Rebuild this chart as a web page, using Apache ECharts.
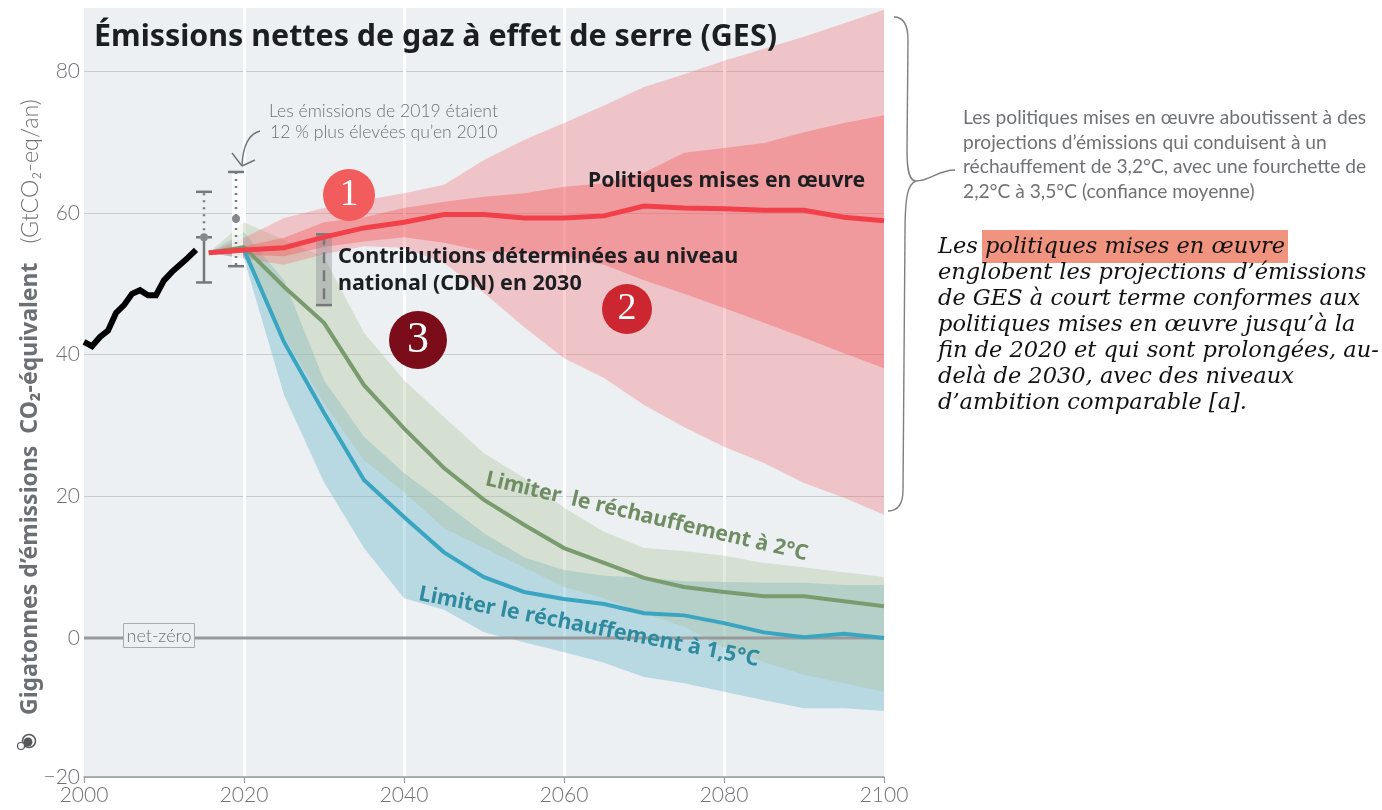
<!DOCTYPE html>
<html><head><meta charset="utf-8">
<style>html,body{margin:0;padding:0;background:#fff}#c{width:1382px;height:810px}</style>
<script src="https://cdn.jsdelivr.net/npm/echarts@6/dist/echarts.min.js"></script>
</head><body><div id="c"></div>
<script>
const historyYears=[2000,2001,2002,2003,2004,2005,2006,2007,2008,2009,2010,2011,2012,2013,2014];
const historyValues=[41.8,41.2,42.5,43.4,45.9,47,48.6,49.1,48.4,48.4,50.5,51.7,52.7,53.7,54.8];
const scenarioYears=[2015.6,2020,2025,2030,2035,2040,2045,2050,2055,2060,2065,2070,2075,2080,2085,2090,2095,2100];
const policyMedian=[54.4,54.8,55.1,56.6,57.9,58.7,59.8,59.8,59.3,59.3,59.6,61,60.7,60.6,60.4,60.4,59.4,58.9];
const policyOuterHigh=[54.4,56.5,59.3,60.7,61.8,62.8,64,67.5,70.3,72.7,75.2,77.8,79.6,81.5,83.2,84.9,86.8,88.7];
const policyOuterLow=[54.4,53.6,52.7,54.2,55.3,55.1,52.9,48.7,43.9,39.5,36.7,32.9,29.8,27,24.7,21.9,19.8,17.4];
const policyInnerHigh=[54.4,55.3,56.5,58.7,59.4,60.7,61.6,62.3,62.8,63.7,64.2,65.7,68.5,69.2,69.9,71.4,72.7,73.8];
const policyInnerLow=[54.4,54.1,53.9,55.2,56,56.6,55.8,54.6,54.4,53.9,52.7,50.5,48.6,46.6,44.5,42.4,40.2,38.1];
const twoDegMedian=[54.4,55.2,49.6,44.5,35.7,29.6,24,19.5,16,12.7,10.6,8.5,7.2,6.5,5.9,5.9,5.2,4.5];
const twoDegHigh=[54.4,58.7,56.2,53.8,43.1,36.4,31.2,26.1,22.6,18.4,15,12.7,12.3,11.6,10.6,10,9.3,8.6];
const twoDegLow=[54.4,53.9,42.6,33.2,25.1,20.6,15.5,12.7,10,7.2,5.6,3.5,1.6,-1.3,-3.4,-5.2,-6.4,-7.6];
const oneFiveMedian=[54.4,54.8,41.8,31.8,22.3,17.1,12.1,8.6,6.5,5.5,4.8,3.5,3.2,2.1,0.8,0.1,0.6,0];
const oneFiveHigh=[54.4,57.3,50.5,36.4,28.4,23.3,19.1,14.8,11.4,9.6,8.8,8.5,8,7.9,7.8,7.8,7.5,7.5];
const oneFiveLow=[54.4,53.6,34.3,22,12.7,5.6,4,0.8,-0.6,-2,-3.5,-5.5,-6.4,-7.6,-8.8,-9.9,-9.9,-10.3];
const whisker2015=[2015,50.2,56.6,63];
const whisker2019=[2019,52.5,59.2,65.8];
const whiskerCdn=[2030,47,52,57];
const xTicks=[2000,2020,2040,2060,2080,2100];
const yTickLabels=['−20','0','20','40','60','80'];
const yMin=-19.62,yMax=88.95;
const yTickValues=[yMin,0,20,40,60,80];
const titleText='Émissions nettes de gaz à effet de serre (GES)';
const noteLines=['Les émissions de 2019 étaient','12 % plus élevées qu’en 2010'];
const sideLines=['Les politiques mises en œuvre aboutissent à des','projections d’émissions qui conduisent à un','réchauffement de 3,2°C, avec une fourchette de','2,2°C à 3,5°C (confiance moyenne)'];
const bodyLines=['Les politiques mises en œuvre','englobent les projections d’émissions','de GES à court terme conformes aux','politiques mises en œuvre jusqu’à la','fin de 2020 et qui sont prolongées, au-','delà de 2030, avec des niveaux','d’ambition comparable [a].'];

const SANS='"Noto Sans","Open Sans",sans-serif', THIN='Lato,"Open Sans",sans-serif', SERIF='"Liberation Serif",serif', BODY='"DejaVu Serif",serif';
const TICK='#6f7174';
function zip(a,b){return a.map((v,i)=>[v,b[i]]);}
function band(name,lo,hi,color){
  return {type:'custom',name,coordinateSystem:'cartesian2d',silent:true,clip:true,
    data:scenarioYears.map((y,i)=>[y,lo[i],hi[i]]),encode:{x:0,y:[1,2]},
    renderItem(p,api){
      if(p.dataIndex!==0)return {type:'group',children:[]};
      const top=scenarioYears.map((y,i)=>api.coord([y,hi[i]]));
      const bot=scenarioYears.map((y,i)=>api.coord([y,lo[i]])).reverse();
      return {type:'polygon',shape:{points:top.concat(bot)},style:{fill:color}};
    }};
}
function line(name,xs,ys,color,w){
  return {type:'line',name,data:zip(xs,ys),symbol:'none',silent:true,clip:true,
    lineStyle:{color,width:w,cap:'butt',join:'miter'}};
}
function whisker(name,row,kind){
  return {type:'custom',name,coordinateSystem:'cartesian2d',silent:true,clip:false,data:[row],encode:{x:0,y:[1,2,3]},
    renderItem(p,api){
      const c='#75797c';
      const x=api.value(0),lo=api.coord([x,api.value(1)]),mid=api.coord([x,api.value(2)]),hi=api.coord([x,api.value(3)]);
      const seg=(a,b,dash,w)=>({type:'line',shape:{x1:a[0],y1:a[1],x2:b[0],y2:b[1]},style:{stroke:c,lineWidth:w||2.5,lineDash:dash||null}});
      const cap=(pt,half)=>seg([pt[0]-half,pt[1]],[pt[0]+half,pt[1]],null,2.5);
      const kids=[];
      if(kind==='cdn'){
        kids.push({type:'rect',shape:{x:lo[0]-8,y:hi[1],width:16,height:lo[1]-hi[1]},style:{fill:'rgba(120,125,128,0.33)'}});
        kids.push(seg(hi,lo,[11,7],2.5));kids.push(cap(hi,8));kids.push(cap(lo,8));
      }else if(kind==='white'){
        kids.push({type:'rect',shape:{x:lo[0]-4,y:hi[1],width:11,height:lo[1]-hi[1]},style:{fill:'rgba(255,255,255,0.75)'}});
        kids.push(seg(hi,lo,[2,5],2.5));kids.push(cap(hi,8));kids.push(cap(lo,8));
        kids.push({type:'circle',shape:{cx:mid[0],cy:mid[1],r:4},style:{fill:'#85898c'}});
      }else{
        kids.push(seg(mid,hi,[2,5],2.5));kids.push(seg(mid,lo,null,2.5));kids.push(cap(hi,8));kids.push(cap(lo,8));
        kids.push(seg([mid[0]-8,mid[1]],[mid[0]+8,mid[1]],[4,8],2.5));
        kids.push({type:'circle',shape:{cx:mid[0],cy:mid[1],r:4},style:{fill:'#85898c'}});
      }
      return {type:'group',children:kids};
    }};
}
function txt(text,x,y,font,size,color,extra){
  return Object.assign({type:'text',z:100,x,y,silent:true,style:Object.assign({text,fontFamily:font,fontSize:size,fill:color,textAlign:'left',textVerticalAlign:'middle'},extra&&extra.style||{})},extra&&extra.el||{});
}
function badge(n,x,y,r,color,size){
  return [{type:'circle',z:100,silent:true,shape:{cx:x,cy:y,r},style:{fill:color}},
    txt(String(n),x,y,SERIF,size,'#fff',{style:{textAlign:'center'}})];
}
function curve(x1,y1,cx1,cy1,cx2,cy2,x2,y2,color){
  return {type:'bezierCurve',z:100,silent:true,shape:{x1,y1,cpx1:cx1,cpy1:cy1,cpx2:cx2,cpy2:cy2,x2,y2},style:{fill:'none',stroke:color,lineWidth:1.4}};
}
function stroke(x1,y1,x2,y2,color){
  return {type:'line',z:100,silent:true,shape:{x1,y1,x2,y2},style:{stroke:color,lineWidth:1.4}};
}
const rad=d=>d*Math.PI/180;
const g=[];
g.push(txt(titleText,94,37,SANS,30.4,'#1c1e21',{style:{fontWeight:700}}));
g.push({type:'text',z:100,silent:true,x:30,y:715,rotation:rad(90),style:{
  text:'{b|Gigatonnes d’émissions  CO₂-équivalent}{l|   (GtCO₂-eq/an)}',textAlign:'left',textVerticalAlign:'middle',
  rich:{b:{fontFamily:SANS,fontWeight:700,fontSize:23,fill:'#6d7073'},l:{fontFamily:THIN,fontWeight:300,fontSize:23.3,fill:TICK}}}});
noteLines.forEach((t,i)=>g.push(txt(t,i?270:269,111+i*21,THIN,17.6,TICK,{style:{fontWeight:300}})));
g.push(curve(260,131,248,134,243,147,242,165,'#6f7276'),stroke(232,153,242,166,'#6f7276'),stroke(242,166,255,160,'#6f7276'));
g.push(txt('Politiques mises en œuvre',588,181,SANS,21.2,'#1c1e21',{style:{fontWeight:700}}));
g.push(txt('Contributions déterminées au niveau',338,257,SANS,21.5,'#1c1e21',{style:{fontWeight:700}}));
g.push(txt('national (CDN) en 2030',338,284,SANS,21.5,'#1c1e21',{style:{fontWeight:700}}));
g.push(...badge(1,349,195,26,'#f25c5c',38),...badge(2,627,309,25,'#cc2630',38),...badge(3,418,340,29,'#7a0d19',44));
g.push(txt('Limiter  le réchauffement à 2°C',486,479,SANS,21.3,'#6f8c62',{el:{rotation:rad(-13.2)},style:{fontWeight:700}}));
g.push(txt('Limiter le réchauffement à 1,5°C',419,594,SANS,21.5,'#2e8a9e',{el:{rotation:rad(-11)},style:{fontWeight:700}}));
g.push({type:'rect',z:100,silent:true,shape:{x:123.5,y:623.5,width:71,height:24},style:{fill:'#ecf0f2',stroke:'#a9acae',lineWidth:1}});
g.push(txt('net-zéro',159,636,THIN,18,TICK,{style:{textAlign:'center',fontWeight:300}}));
const bc='#7d8083';
g.push(curve(894,17,904,17,908,26,908,40,bc),stroke(908,40,907,150,bc),curve(907,150,907,170,909,181,916,181,bc),
  curve(916,181,930,181,938,170,955,170,bc),curve(916,181,908,184,905,195,905,233,bc),stroke(905,233,903,490,bc),curve(903,490,903,505,897,511,888,511,bc));
sideLines.forEach((t,i)=>g.push(txt(t,963,118+i*24.5,THIN,19.2,TICK)));
g.push({type:'rect',z:90,silent:true,shape:{x:982,y:230,width:306,height:33},style:{fill:'#f1947f'}});
bodyLines.forEach((t,i)=>g.push(txt(t,938,247+i*26,BODY,22.5,'#111',{style:{fontStyle:'italic'}})));
g.push({type:'circle',z:100,silent:true,shape:{cx:29,cy:741,r:6.5},style:{fill:'none',stroke:'#55585b',lineWidth:1.5}});
g.push({type:'circle',z:100,silent:true,shape:{cx:28,cy:742,r:4.5},style:{fill:'#55585b'}});
g.push({type:'circle',z:100,silent:true,shape:{cx:21,cy:746,r:3.5},style:{fill:'#fff',stroke:'#55585b',lineWidth:1.2}});

const chart=echarts.init(document.getElementById('c'),null,{renderer:'canvas'});
chart.setOption({
  animation:false,
  grid:{left:84,right:498,top:8,bottom:33,show:true,backgroundColor:'#ecf0f2',borderWidth:0},
  xAxis:{type:'value',min:2000,max:2100,interval:20,
    axisLine:{show:true,onZero:false,lineStyle:{color:'#999c9e',width:1.5}},
    axisTick:{show:true,length:6,lineStyle:{color:'#999c9e',width:1.2}},
    axisLabel:{color:TICK,fontFamily:THIN,fontWeight:300,fontSize:21,margin:8,formatter:v=>xTicks.includes(v)?String(v):''},
    splitLine:{show:true,showMinLine:false,showMaxLine:false,lineStyle:{color:'#ffffff',width:3}}},
  yAxis:{type:'value',min:yMin,max:yMax,
    axisLine:{show:false},
    axisTick:{show:false,customValues:yTickValues},
    axisLabel:{customValues:yTickValues,color:TICK,fontFamily:THIN,fontWeight:300,fontSize:21,margin:4,
      formatter:v=>yTickLabels[yTickValues.indexOf(v)]},
    splitLine:{show:true,lineStyle:{color:'#c9cccd',width:1}}},
  series:[
    line('net-zéro',[2000,2100],[0,0],'#97999b',3),
    line('Historique',historyYears,historyValues,'#000',6),
    band('1,5°C fourchette',oneFiveLow,oneFiveHigh,'rgba(108,182,202,0.4)'),
    line('Limiter le réchauffement à 1,5°C',scenarioYears,oneFiveMedian,'#3aa5c0',4),
    band('2°C fourchette',twoDegLow,twoDegHigh,'rgba(173,191,151,0.35)'),
    line('Limiter le réchauffement à 2°C',scenarioYears,twoDegMedian,'#789c6e',4),
    band('Politiques extérieur',policyOuterLow,policyOuterHigh,'rgba(246,97,103,0.3)'),
    band('Politiques intérieur',policyInnerLow,policyInnerHigh,'rgba(242,92,95,0.4)'),
    whisker('2015',whisker2015,'plain'),
    whisker('2019',whisker2019,'white'),
    whisker('CDN 2030',whiskerCdn,'cdn'),
    line('Politiques mises en œuvre',scenarioYears,policyMedian,'#f2404a',5)
  ],
  graphic:g
});
</script></body></html>
